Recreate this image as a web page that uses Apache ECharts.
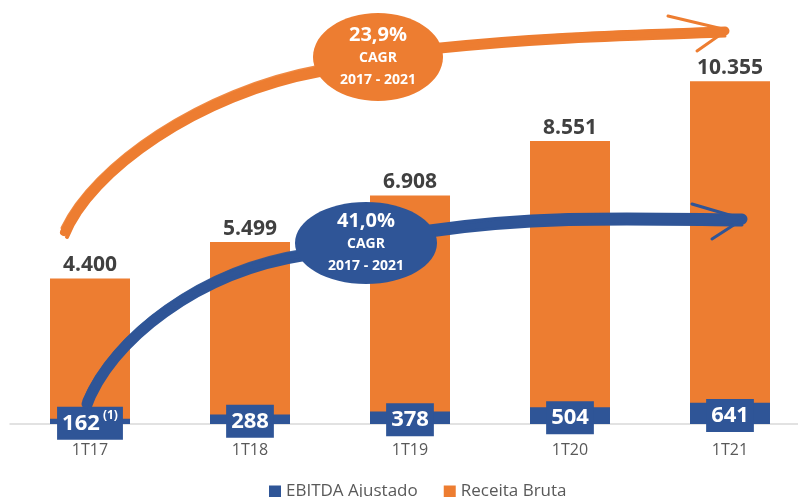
<!DOCTYPE html>
<html>
<head>
<meta charset="utf-8">
<script src="https://cdn.jsdelivr.net/npm/echarts@6/dist/echarts.min.js"></script>
<style>
  html, body { margin: 0; padding: 0; background: #fff; }
  #chart { width: 798px; height: 497px; }
</style>
</head>
<body>
<div id="chart"></div>
<script>
const categories = ['1T17', '1T18', '1T19', '1T20', '1T21'];
const receitaBruta = [4400, 5499, 6908, 8551, 10355];
const ebitdaAjustado = [162, 288, 378, 504, 641];
const receitaCagr = ['23,9%', 'CAGR', '2017 - 2021'];
const ebitdaCagr = ['41,0%', 'CAGR', '2017 - 2021'];

const ORANGE = '#ED7D31';
const BLUE = '#2F5597';
const FONT = '"Open Sans", sans-serif';

const chart = echarts.init(document.getElementById('chart'));

function fmt(v) {
  return v.toLocaleString('de-DE');
}

// brush-like stroke: a few bezier curves slightly shifted
function brush(color, c, widths) {
  const out = [];
  widths.forEach(function (w) {
    const dy = w[1];
    out.push({
      type: 'bezierCurve',
      z: 50,
      shape: {
        x1: c[0] + w[2], y1: c[1] + dy,
        cpx1: c[2], cpy1: c[3] + dy,
        cpx2: c[4], cpy2: c[5] + dy,
        x2: c[6], y2: c[7] + dy
      },
      style: { stroke: color, lineWidth: w[0], fill: null, lineCap: 'round', opacity: w[3] || 1 }
    });
  });
  return out;
}

function line(color, x1, y1, x2, y2, w) {
  return {
    type: 'line', z: 50,
    shape: { x1: x1, y1: y1, x2: x2, y2: y2 },
    style: { stroke: color, lineWidth: w, lineCap: 'round' }
  };
}

function bubble(color, cx, cy, rx, ry, texts) {
  return [
    { type: 'ellipse', z: 60, shape: { cx: cx, cy: cy, rx: rx, ry: ry }, style: { fill: color } },
    { type: 'text', z: 61, style: { text: texts[0], x: cx, y: cy - 22, align: 'center', verticalAlign: 'middle', fill: '#fff', font: 'bold 20px ' + FONT } },
    { type: 'text', z: 61, style: { text: texts[1], x: cx, y: cy + 1, align: 'center', verticalAlign: 'middle', fill: '#fff', font: 'bold 14px ' + FONT } },
    { type: 'text', z: 61, style: { text: texts[2], x: cx, y: cy + 23, align: 'center', verticalAlign: 'middle', fill: '#fff', font: 'bold 14px ' + FONT } }
  ];
}

const graphics = [].concat(
  // orange arrow
  brush(ORANGE, [64, 232, 92, 168, 200, 92, 320, 70], [[8, 0, 0], [4, 5, 3], [3, -4, -2, 0.9]]),
  brush(ORANGE, [430, 48, 540, 36, 640, 34, 725, 31], [[9, 0, 0], [3, 5, 0], [2, -3, 20, 0.8]]),
  [line(ORANGE, 668, 16, 727, 30, 3), line(ORANGE, 697, 51, 727, 30, 3)],
  bubble(ORANGE, 378, 57, 65, 44, receitaCagr),
  // blue arrow
  brush(BLUE, [86, 404, 112, 338, 200, 270, 305, 254], [[9, 0, 0], [4, 5, 3], [3, -4, -2, 0.9]]),
  brush(BLUE, [430, 230, 540, 214, 640, 218, 742, 219], [[11, 0, 0], [3, 6, 0], [2, -4, 20, 0.8]]),
  [line(BLUE, 692, 204, 743, 219, 3), line(BLUE, 712, 239, 743, 219, 3)],
  bubble(BLUE, 366, 243, 71, 41, ebitdaCagr)
);

chart.setOption({
  animation: false,
  textStyle: { fontFamily: FONT },
  grid: { left: 10, width: 800, top: 60, height: 364, outerBoundsMode: 'none', containLabel: false },
  legend: {
    data: ['EBITDA Ajustado', 'Receita Bruta'],
    left: 264,
    top: 478,
    icon: 'rect',
    itemWidth: 12,
    itemHeight: 12,
    itemGap: 26,
    textStyle: { fontSize: 17, color: '#595959', fontFamily: FONT }
  },
  xAxis: {
    type: 'category',
    data: categories,
    axisTick: { show: false },
    axisLine: { lineStyle: { color: '#D9D9D9', width: 1.5 } },
    axisLabel: { color: '#595959', fontSize: 16, margin: 18, fontFamily: FONT }
  },
  yAxis: {
    type: 'value',
    min: 0,
    max: 11000,
    show: false,
    splitLine: { show: false }
  },
  graphic: graphics,
  series: [
    {
      name: 'EBITDA Ajustado',
      type: 'bar',
      data: ebitdaAjustado,
      barWidth: 80,
      barGap: '-100%',
      z: 3,
      itemStyle: { color: BLUE },
      label: {
        show: true,
        position: 'inside',
        offset: [0, 2],
        backgroundColor: BLUE,
        padding: [3, 5],
        formatter: function (p) {
          return p.dataIndex === 0 ? '{v|' + p.value + '} {s|(1)}' : '{v|' + p.value + '}';
        },
        rich: {
          v: { color: '#fff', fontSize: 22, fontWeight: 'bold', fontFamily: FONT, lineHeight: 27 },
          s: { color: '#fff', fontSize: 12, fontWeight: 'bold', fontFamily: FONT, lineHeight: 27, verticalAlign: 'top', padding: [0, 0, 8, 0] }
        }
      }
    },
    {
      name: 'Receita Bruta',
      type: 'bar',
      data: receitaBruta,
      barWidth: 80,
      z: 2,
      itemStyle: { color: ORANGE },
      label: {
        show: true,
        position: 'top',
        distance: 3,
        color: '#404040',
        fontSize: 21,
        fontWeight: 'bold',
        fontFamily: FONT,
        formatter: function (p) { return fmt(p.value); }
      }
    }
  ]
});
</script>
</body>
</html>
